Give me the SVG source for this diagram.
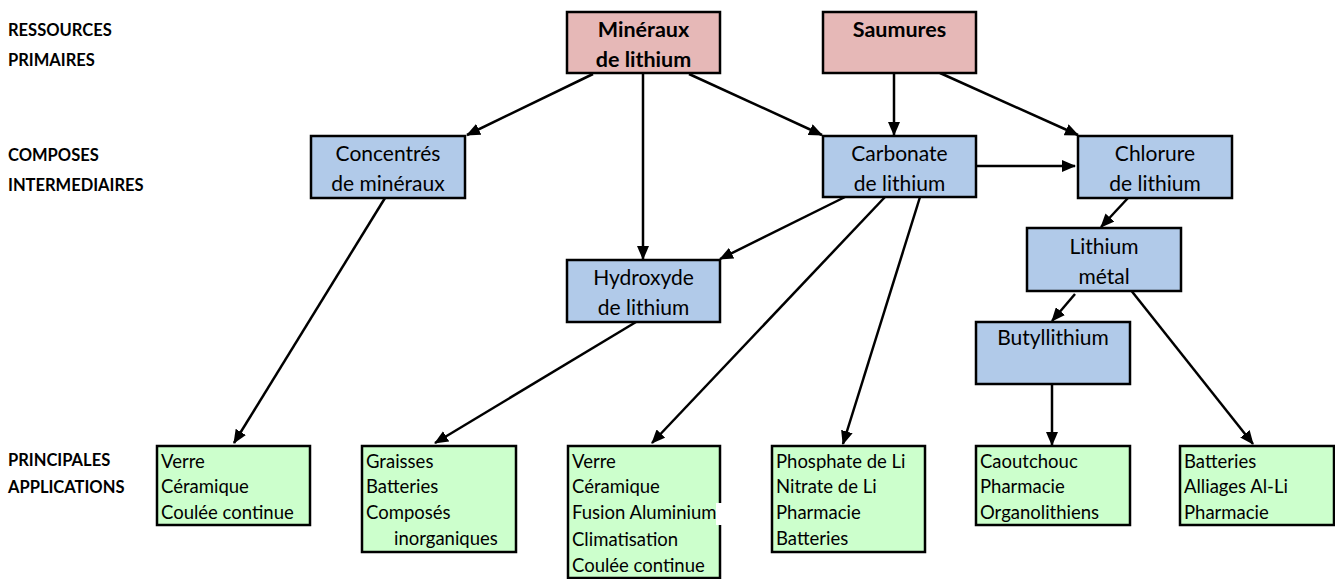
<svg xmlns="http://www.w3.org/2000/svg" width="1335" height="579" viewBox="0 0 1335 579">
<style>
text{font-family:Lato,"Open Sans","Liberation Sans",sans-serif;fill:#000}
.lbl{font-size:16.5px;font-weight:bold}
.nt{font-size:21px;text-anchor:middle}
.bt{font-size:21.5px;font-weight:bold;text-anchor:middle}
.gt{font-size:18.5px}
.src{fill:#e6b8b7;stroke:#000;stroke-width:2.5}
.mid{fill:#b1cae9;stroke:#000;stroke-width:2.5}
.app{fill:#ccffcc;stroke:#000;stroke-width:2.5}
.c{stroke:#000;stroke-width:2.5;fill:none;marker-end:url(#ah)}
</style>
<defs>
<marker id="ah" markerUnits="userSpaceOnUse" markerWidth="14" markerHeight="12" refX="13" refY="6" orient="auto">
<path d="M0,0 L14,6 L0,12 Z" fill="#000"/>
</marker>
</defs>
<rect width="1335" height="579" fill="#fff"/>
<g id="labels">
<text class="lbl" x="8" y="36">RESSOURCES</text>
<text class="lbl" x="8" y="66">PRIMAIRES</text>
<text class="lbl" x="8" y="161">COMPOSES</text>
<text class="lbl" x="8" y="191">INTERMEDIAIRES</text>
<text class="lbl" x="8" y="466">PRINCIPALES</text>
<text class="lbl" x="8" y="493">APPLICATIONS</text>
</g>
<g id="connectors">
<line class="c" x1="593" y1="74" x2="467" y2="135"/>
<line class="c" x1="643" y1="74" x2="643" y2="259"/>
<line class="c" x1="689" y1="74" x2="822" y2="135"/>
<line class="c" x1="894" y1="74" x2="894" y2="135"/>
<line class="c" x1="940" y1="73" x2="1078" y2="135"/>
<line class="c" x1="976" y1="166" x2="1075" y2="166"/>
<line class="c" x1="1128" y1="198" x2="1101" y2="227"/>
<line class="c" x1="1075" y1="294" x2="1052" y2="321"/>
<line class="c" x1="1130" y1="289" x2="1253" y2="444"/>
<line class="c" x1="1052" y1="384" x2="1052" y2="445"/>
<line class="c" x1="845" y1="197" x2="720" y2="259"/>
<line class="c" x1="885" y1="197" x2="652" y2="443"/>
<line class="c" x1="920" y1="197" x2="843" y2="444"/>
<line class="c" x1="385" y1="198" x2="234" y2="443"/>
<line class="c" x1="636" y1="322" x2="435" y2="443"/>
</g>
<g id="n-mineraux">
<rect class="src" x="567" y="12" width="153" height="61"/>
<text class="bt" x="643.5" y="37">Minéraux</text>
<text class="bt" x="643.5" y="67">de lithium</text>
</g>
<g id="n-saumures">
<rect class="src" x="823" y="12" width="153" height="61"/>
<text class="bt" x="899.5" y="37">Saumures</text>
</g>
<g id="n-concentres">
<rect class="mid" x="311" y="136" width="154" height="62"/>
<text class="nt" x="388" y="160.5">Concentrés</text>
<text class="nt" x="388" y="190.5">de minéraux</text>
</g>
<g id="n-carbonate">
<rect class="mid" x="823" y="136" width="153" height="61"/>
<text class="nt" x="899.5" y="160.5">Carbonate</text>
<text class="nt" x="899.5" y="190.5">de lithium</text>
</g>
<g id="n-chlorure">
<rect class="mid" x="1078" y="136" width="154" height="62"/>
<text class="nt" x="1155" y="160.5">Chlorure</text>
<text class="nt" x="1155" y="190.5">de lithium</text>
</g>
<g id="n-hydroxyde">
<rect class="mid" x="567" y="260" width="153" height="62"/>
<text class="nt" x="643.5" y="284.5">Hydroxyde</text>
<text class="nt" x="643.5" y="314.5">de lithium</text>
</g>
<g id="n-lithium-metal">
<rect class="mid" x="1027" y="228" width="154" height="63"/>
<text class="nt" x="1104" y="254">Lithium</text>
<text class="nt" x="1104" y="284">métal</text>
</g>
<g id="n-butyllithium">
<rect class="mid" x="976" y="322" width="154" height="62"/>
<text class="nt" x="1053" y="345">Butyllithium</text>
</g>
<g id="a-concentres">
<rect class="app" x="157" y="446" width="153" height="79"/>
<text class="gt" x="161" y="468">Verre</text>
<text class="gt" x="161" y="493">Céramique</text>
<text class="gt" x="161" y="519">Coulée continue</text>
</g>
<g id="a-hydroxyde">
<rect class="app" x="362" y="446" width="154" height="106"/>
<text class="gt" x="366" y="468">Graisses</text>
<text class="gt" x="366" y="493">Batteries</text>
<text class="gt" x="366" y="519">Composés</text>
<text class="gt" x="394" y="545">inorganiques</text>
</g>
<g id="a-carbonate1">
<rect class="app" x="568" y="446" width="152" height="132"/>
<rect x="716" y="503" width="10" height="22" fill="#fff"/>
<text class="gt" x="572" y="468">Verre</text>
<text class="gt" x="572" y="493">Céramique</text>
<text class="gt" x="572" y="519">Fusion Aluminium</text>
<text class="gt" x="572" y="546">Climatisation</text>
<text class="gt" x="572" y="572">Coulée continue</text>
</g>
<g id="a-carbonate2">
<rect class="app" x="772" y="446" width="153" height="106"/>
<text class="gt" x="776" y="468">Phosphate de Li</text>
<text class="gt" x="776" y="493">Nitrate de Li</text>
<text class="gt" x="776" y="519">Pharmacie</text>
<text class="gt" x="776" y="545">Batteries</text>
</g>
<g id="a-butyl">
<rect class="app" x="976" y="446" width="154" height="79"/>
<text class="gt" x="980" y="468">Caoutchouc</text>
<text class="gt" x="980" y="493">Pharmacie</text>
<text class="gt" x="980" y="519">Organolithiens</text>
</g>
<g id="a-metal">
<rect class="app" x="1180" y="446" width="154" height="79"/>
<text class="gt" x="1184" y="468">Batteries</text>
<text class="gt" x="1184" y="493">Alliages Al-Li</text>
<text class="gt" x="1184" y="519">Pharmacie</text>
</g>
</svg>
